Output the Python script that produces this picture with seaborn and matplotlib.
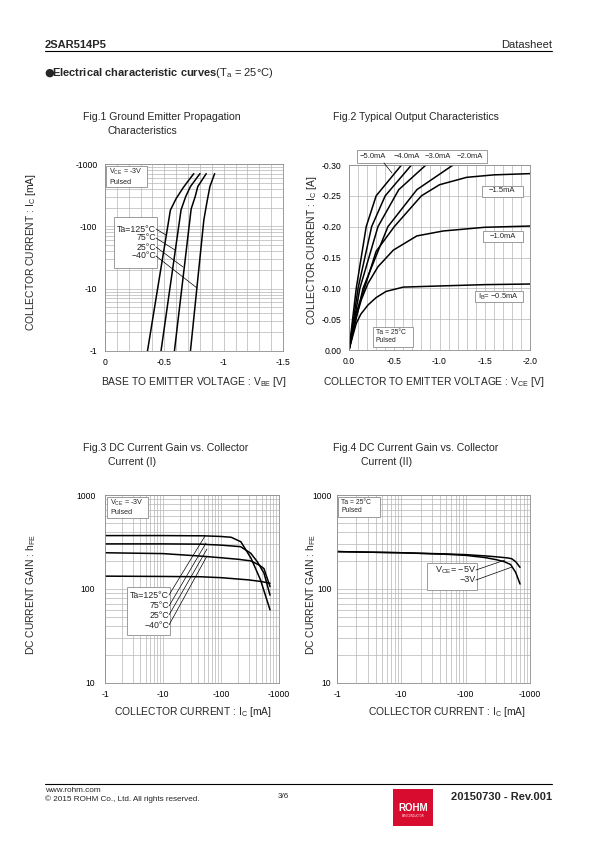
import numpy as np
import pandas as pd
import matplotlib
matplotlib.use('Agg')
import matplotlib.pyplot as plt
import matplotlib.ticker as mticker
from matplotlib.patches import Rectangle
from matplotlib.lines import Line2D
from matplotlib.transforms import Affine2D
import seaborn as sns

# ---- Fig.1 : |VBE| [V] -> |IC| [mA]
f1_vbe_125 = [0.358, 0.551, 0.600, 0.660, 0.706, 0.748]
f1_ic_125 = [1, 182, 280, 420, 550, 700]
f1_vbe_75 = [0.472, 0.641, 0.680, 0.720, 0.800]
f1_ic_75 = [1, 184, 300, 435, 700]
f1_vbe_25 = [0.585, 0.726, 0.760, 0.782, 0.853]
f1_ic_25 = [1, 190, 300, 435, 700]
f1_vbe_m40 = [0.720, 0.833, 0.860, 0.884, 0.924]
f1_ic_m40 = [1, 127, 250, 435, 700]

# ---- Fig.2 : |VCE| [V] -> |IC| [A]
f2_vce_5 = [0, 0.08, 0.19, 0.30, 0.58]
f2_ic_5 = [0, 0.10, 0.20, 0.25, 0.30]
f2_vce_4 = [0, 0.10, 0.25, 0.40, 0.69]
f2_ic_4 = [0, 0.10, 0.20, 0.25, 0.30]
f2_vce_3 = [0, 0.12, 0.32, 0.55, 0.85]
f2_ic_3 = [0, 0.10, 0.20, 0.26, 0.30]
f2_vce_2 = [0, 0.155, 0.43, 0.75, 1.15]
f2_ic_2 = [0, 0.10, 0.20, 0.26, 0.30]
f2_vce_15 = [0, 0.08, 0.17, 0.30, 0.50, 0.80, 1.00, 1.30, 1.60, 2.00]
f2_ic_15 = [0, 0.060, 0.10, 0.160, 0.20, 0.25, 0.268, 0.28, 0.284, 0.286]
f2_vce_10 = [0, 0.08, 0.14, 0.21, 0.32, 0.49, 0.75, 1.04, 1.50, 2.00]
f2_ic_10 = [0, 0.054, 0.083, 0.108, 0.135, 0.162, 0.185, 0.193, 0.199, 0.201]
f2_vce_05 = [0, 0.04, 0.08, 0.13, 0.21, 0.30, 0.41, 0.60, 1.04, 1.50, 2.00]
f2_ic_05 = [0, 0.022, 0.043, 0.058, 0.073, 0.085, 0.095, 0.102, 0.104, 0.106, 0.107]

# ---- Fig.3 : |IC| [mA] -> hFE
f3_ic_125 = [1, 10, 50, 100, 150, 220, 330, 480, 700]
f3_hfe_125 = [370, 370, 368, 362, 355, 318, 212, 125, 60]
f3_ic_75 = [1, 10, 44, 100, 218, 326, 423, 552, 700]
f3_hfe_75 = [302, 302, 300, 293, 282, 240, 195, 147, 86]
f3_ic_25 = [1, 10, 44, 100, 200, 326, 454, 550, 700]
f3_hfe_25 = [243, 238, 224, 215, 207, 199, 180, 165, 106]
f3_ic_m40 = [1, 10, 44, 100, 300, 500, 700]
f3_hfe_m40 = [137, 136, 135, 132, 125, 120, 115]

# ---- Fig.4 : |IC| [mA] -> hFE
f4_ic_5 = [1, 10, 50, 100, 200, 300, 450, 520, 600, 700]
f4_hfe_5 = [250, 243, 236, 232, 225, 220, 214, 210, 195, 170]
f4_ic_3 = [1, 10, 50, 100, 200, 300, 400, 500, 600, 700]
f4_hfe_3 = [250, 243, 234, 228, 216, 205, 195, 182, 150, 113]

sns.set_style('white')
plt.rcParams['font.family'] = ['Liberation Sans', 'DejaVu Sans']
plt.rcParams['mathtext.fontset'] = 'custom'
plt.rcParams['mathtext.rm'] = 'Liberation Sans'
plt.rcParams['mathtext.it'] = 'Liberation Sans:italic'
plt.rcParams['mathtext.bf'] = 'Liberation Sans:bold'
plt.rcParams['mathtext.default'] = 'regular'

fig = plt.figure(figsize=(5.95, 8.42), dpi=100)
PX = Affine2D().scale(1 / 595, -1 / 842).translate(0, 1) + fig.transFigure
GRID = '#b5b5b5'
EDGE = '#8c8c8c'
TICK = 6.2
LAB = 7.4
TITLE = 7.6


def add_ax(x0, y0, x1, y1):
    return fig.add_axes([x0 / 595, 1 - y1 / 842, (x1 - x0) / 595, (y1 - y0) / 842])


def style(ax):
    ax.set_axisbelow(True)
    ax.grid(True, which='both', color=GRID, lw=0.5)
    ax.tick_params(which='both', length=0, labelsize=TICK, colors='black')
    for s in ax.spines.values():
        s.set_color(EDGE)
        s.set_linewidth(0.6)
    ax.set_xlabel('')
    ax.set_ylabel('')


def curve(ax, xs, ys):
    sns.lineplot(x=xs, y=ys, ax=ax, color='black', lw=1.1, sort=False, estimator=None)


def txt(x, y, s, size=LAB, ha='left', va='center', **kw):
    fig.text(x, y, s, transform=PX, fontsize=size, ha=ha, va=va, **kw)


def box(x0, y0, x1, y1):
    fig.add_artist(Rectangle((x0, y0), x1 - x0, y1 - y0, transform=PX,
                             facecolor='white', edgecolor=EDGE, lw=0.6, zorder=2))


def pointer(x0, y0, x1, y1):
    fig.add_artist(Line2D([x0, x1], [y0, y1], transform=PX, color='black', lw=0.5, zorder=3))


neg = lambda fmt: mticker.FuncFormatter(lambda v, p: fmt(v))

# ---------------- Fig.1
ax1 = add_ax(105, 164, 283, 351)
for xs, ys in [(f1_vbe_125, f1_ic_125), (f1_vbe_75, f1_ic_75),
               (f1_vbe_25, f1_ic_25), (f1_vbe_m40, f1_ic_m40)]:
    curve(ax1, xs, ys)
ax1.set_yscale('log')
ax1.set_xlim(0, 1.5)
ax1.set_ylim(1, 1000)
ax1.xaxis.set_major_locator(mticker.MultipleLocator(0.5))
ax1.xaxis.set_minor_locator(mticker.MultipleLocator(0.1))
ax1.yaxis.set_major_locator(mticker.LogLocator(10))
ax1.yaxis.set_minor_locator(mticker.LogLocator(10, subs=np.arange(2, 10)))
ax1.yaxis.set_minor_formatter(mticker.NullFormatter())
ax1.xaxis.set_major_formatter(neg(lambda v: '0' if v == 0 else '-%g' % v))
ax1.yaxis.set_major_formatter(neg(lambda v: '-%d' % v))
style(ax1)
ax1.tick_params(axis='y', pad=5.5)
ax1.tick_params(axis='x', pad=5)

# ---------------- Fig.2
ax2 = add_ax(349, 165, 530, 350)
for xs, ys in [(f2_vce_5, f2_ic_5), (f2_vce_4, f2_ic_4), (f2_vce_3, f2_ic_3),
               (f2_vce_2, f2_ic_2), (f2_vce_15, f2_ic_15), (f2_vce_10, f2_ic_10),
               (f2_vce_05, f2_ic_05)]:
    curve(ax2, xs, ys)
ax2.set_xlim(0, 2.0)
ax2.set_ylim(0, 0.30)
ax2.xaxis.set_major_locator(mticker.MultipleLocator(0.5))
ax2.xaxis.set_minor_locator(mticker.MultipleLocator(0.1))
ax2.yaxis.set_major_locator(mticker.MultipleLocator(0.05))
ax2.xaxis.set_major_formatter(neg(lambda v: '0.0' if v == 0 else '-%.1f' % v))
ax2.yaxis.set_major_formatter(neg(lambda v: '0.00' if v == 0 else '-%.2f' % v))
style(ax2)
ax2.grid(False, which='minor', axis='y')
ax2.tick_params(axis='y', pad=5.5)
ax2.tick_params(axis='x', pad=5)


# ---------------- Fig.3 / Fig.4
def gain_axes(ax, ypad):
    ax.set_xscale('log')
    ax.set_yscale('log')
    ax.set_xlim(1, 1000)
    ax.set_ylim(10, 1000)
    for a in (ax.xaxis, ax.yaxis):
        a.set_major_locator(mticker.LogLocator(10))
        a.set_minor_locator(mticker.LogLocator(10, subs=np.arange(2, 10)))
        a.set_minor_formatter(mticker.NullFormatter())
    ax.xaxis.set_major_formatter(neg(lambda v: '-%d' % v))
    ax.yaxis.set_major_formatter(neg(lambda v: '%d' % v))
    style(ax)
    ax.tick_params(axis='y', pad=ypad)
    ax.tick_params(axis='x', pad=5)


ax3 = add_ax(105, 495, 279, 683)
for xs, ys in [(f3_ic_125, f3_hfe_125), (f3_ic_75, f3_hfe_75),
               (f3_ic_25, f3_hfe_25), (f3_ic_m40, f3_hfe_m40)]:
    curve(ax3, xs, ys)
gain_axes(ax3, 7)

ax4 = add_ax(337, 495, 530, 683)
for xs, ys in [(f4_ic_5, f4_hfe_5), (f4_ic_3, f4_hfe_3)]:
    curve(ax4, xs, ys)
gain_axes(ax4, 4)

# ---------------- labels / annotations
# Fig.1
box(106, 166, 147, 187)
txt(109, 172, r'$V_{CE}$ = -3V', size=5.2)
txt(109, 182, 'Pulsed', size=5.2)
box(114, 217, 157, 268)
for y, s in zip([229, 238, 247, 256], ['Ta=125°C', '75°C', '25°C', '−40°C']):
    txt(156, y, s, size=6.3, ha='right')
for (x0, y0), (x1, y1) in zip([(156, 229), (156, 238), (156, 247), (156, 256)],
                              [(166, 235), (175, 250), (183, 267), (197, 288)]):
    pointer(x0, y0, x1, y1)

# Fig.2
box(357, 150, 487, 163)
for x, s in zip([373, 407, 438, 470], ['−5.0mA', '−4.0mA', '−3.0mA', '−2.0mA']):
    txt(x, 157, s, size=5.5, ha='center')
pointer(384, 163, 392, 173)
box(482, 186, 523, 197)
txt(502, 191, '−1.5mA', size=5.5, ha='center')
box(483, 231, 523, 242)
txt(503, 237, '−1.0mA', size=5.5, ha='center')
box(475, 291, 523, 302)
txt(499, 296.5, r'$I_B$= −0.5mA', size=5.5, ha='center')
box(373, 327, 413, 347)
txt(376, 332, 'Ta = 25°C', size=4.9)
txt(376, 341, 'Pulsed', size=4.9)

# Fig.3
box(107, 497, 148, 518)
txt(110, 503, r'$V_{CE}$ = -3V', size=5.2)
txt(110, 513, 'Pulsed', size=5.2)
box(127, 587, 170, 635)
for y, s in zip([595, 606, 615, 625], ['Ta=125°C', '75°C', '25°C', '−40°C']):
    txt(169, y, s, size=6.3, ha='right')
for (x0, y0), (x1, y1) in zip([(169, 595), (169, 606), (169, 615), (169, 625)],
                              [(205, 536), (206, 543), (207, 549), (207, 556)]):
    pointer(x0, y0, x1, y1)

# Fig.4
box(338, 497, 380, 517)
txt(341, 502, 'Ta = 25°C', size=4.9)
txt(341, 511, 'Pulsed', size=4.9)
box(427, 563, 477, 590)
txt(476, 570, r'$V_{CE}$= −5V', size=6.5, ha='right')
txt(476, 580, '−3V', size=6.5, ha='right')
pointer(476, 570, 505, 560)
pointer(476, 580, 512, 567)

# titles
txt(83, 117, 'Fig.1 Ground Emitter Propagation', size=TITLE)
txt(108, 131, 'Characteristics', size=TITLE)
txt(333, 117, 'Fig.2 Typical Output Characteristics', size=TITLE)
txt(83, 448, 'Fig.3 DC Current Gain vs. Collector', size=TITLE)
txt(108, 462, 'Current (I)', size=TITLE)
txt(333, 448, 'Fig.4 DC Current Gain vs. Collector', size=TITLE)
txt(361, 462, 'Current (II)', size=TITLE)

# axis labels
txt(194, 382, r'BASE TO EMITTER VOLTAGE : $V_{BE}$ [V]', ha='center')
txt(434, 382, r'COLLECTOR TO EMITTER VOLTAGE : $V_{CE}$ [V]', ha='center')
txt(193, 712, r'COLLECTOR CURRENT : $I_C$ [mA]', ha='center')
txt(447, 712, r'COLLECTOR CURRENT : $I_C$ [mA]', ha='center')
txt(31, 252, r'COLLECTOR CURRENT : $I_C$ [mA]', ha='center', rotation=90)
txt(312, 250, r'COLLECTOR CURRENT : $I_C$ [A]', ha='center', rotation=90)
txt(31, 595, r'DC CURRENT GAIN : $h_{FE}$', ha='center', rotation=90)
txt(311, 595, r'DC CURRENT GAIN : $h_{FE}$', ha='center', rotation=90)

# header
txt(45, 45, '2SAR514P5', size=8, weight='bold')
txt(552, 45, 'Datasheet', size=8, ha='right')
fig.add_artist(Line2D([45, 552], [51, 51], transform=PX, color='black', lw=0.8))
txt(44, 73, '●', size=8, family='DejaVu Sans')
txt(52.5, 73, r'$\mathbf{Electrical\ characteristic\ curves}$($T_a$ = 25°C)', size=8)

# footer
fig.add_artist(Line2D([45, 552], [784, 784], transform=PX, color='black', lw=0.8))
txt(45, 790, 'www.rohm.com', size=5.9)
txt(45, 799, '© 2015 ROHM Co., Ltd. All rights reserved.', size=5.9)
txt(283, 796, '3/6', size=5.9, ha='center')
fig.add_artist(Rectangle((393, 789), 40, 37, transform=PX, facecolor='#d80c2f',
                         edgecolor='none', zorder=2))
txt(413, 808, 'ROHM', size=7, ha='center', weight='bold', color='white')
txt(413, 816, 'SEMICONDUCTOR', size=1.8, ha='center', color='white')
txt(552, 797, '20150730 - Rev.001', size=8, ha='right', weight='bold')

fig.savefig('out.png', dpi=100)
